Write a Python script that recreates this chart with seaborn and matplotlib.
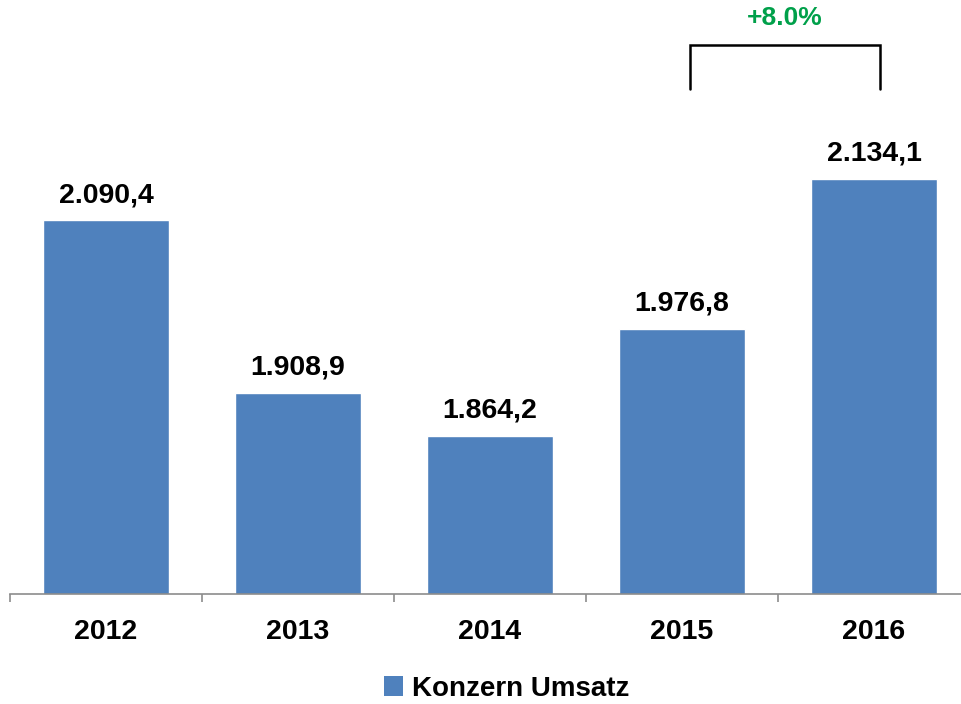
import matplotlib
matplotlib.use("Agg")
import matplotlib.pyplot as plt
import seaborn as sns
import pandas as pd
from matplotlib.patches import Patch
from matplotlib.ticker import FixedLocator

# data
years = ["2012", "2013", "2014", "2015", "2016"]
umsatz = [2090.4, 1908.9, 1864.2, 1976.8, 2134.1]
labels = ["2.090,4", "1.908,9", "1.864,2", "1.976,8", "2.134,1"]
growth_label = "+8.0%"
legend_label = "Konzern Umsatz"

bar_color = "#4F81BD"
green = "#00A04A"

sns.set_theme(style="white")
plt.rcParams["font.family"] = ["Liberation Sans", "DejaVu Sans"]
plt.rcParams["font.weight"] = "bold"
plt.rcParams["text.color"] = "black"

df = pd.DataFrame({"year": years, "value": umsatz})

fig = plt.figure(figsize=(9.61, 7.04), dpi=100)
ax = fig.add_axes([10 / 961, 110 / 704, 960 / 961, 594 / 704])

sns.barplot(data=df, x="year", y="value", color=bar_color, width=0.66,
            saturation=1, ax=ax)

ax.set_xlim(-0.5, 4.5)
ax.set_ylim(1698, 2322)

# value labels above the bars
for i, (v, txt) in enumerate(zip(umsatz, labels)):
    ax.text(i, v + 13, txt, ha="center", va="bottom", fontsize=20.5,
            fontweight="bold", color="black")

# growth bracket between 2015 and 2016
bx0, bx1 = 3.04, 4.03
ytop, ybot = 2275, 2228
ax.plot([bx0, bx0, bx1, bx1], [ybot, ytop, ytop, ybot], color="black",
        lw=1.8, clip_on=False, solid_joinstyle="miter")
ax.text((bx0 + bx1) / 2, 2290, growth_label, ha="center", va="bottom",
        fontsize=19, fontweight="bold", color=green)

# axes styling
for s in ["top", "right", "left"]:
    ax.spines[s].set_visible(False)
ax.spines["bottom"].set_color("#8C8C8C")
ax.spines["bottom"].set_linewidth(1.2)
ax.set_yticks([])
ax.set_xlabel("")
ax.set_ylabel("")

ax.tick_params(axis="x", which="major", length=0, pad=18, labelsize=20.5,
               colors="black")
for t in ax.get_xticklabels():
    t.set_fontweight("bold")
ax.xaxis.set_minor_locator(FixedLocator([-0.5, 0.5, 1.5, 2.5, 3.5]))
ax.tick_params(axis="x", which="minor", length=6, width=1.2,
               color="#8C8C8C", bottom=True)

handles = [Patch(facecolor=bar_color, edgecolor="none")]
leg = fig.legend(handles, [legend_label], loc="center",
                 bbox_to_anchor=(0.527, 0.022), frameon=False,
                 handlelength=0.7, handleheight=0.7, handletextpad=0.3,
                 borderpad=0.1, prop={"weight": "bold", "size": 20})
for t in leg.get_texts():
    t.set_color("black")

fig.savefig("out.png", dpi=100)
